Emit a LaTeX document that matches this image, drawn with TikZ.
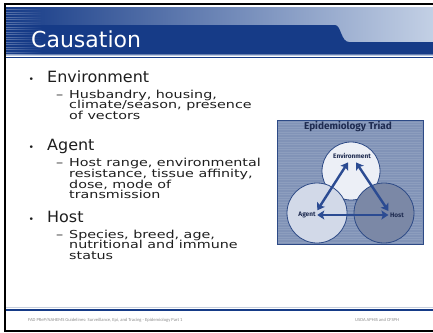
\documentclass[tikz,border=0pt]{standalone}
\usepackage{fontspec}
\setmainfont{DejaVu Sans}
\newfontfamily\bodyfont[FakeStretch=1.03]{DejaVu Sans}
\newfontfamily\subfont[FakeStretch=1.3]{DejaVu Sans}
\newfontfamily\triadfont{Fira Sans}
\newfontfamily\footfont{Carlito}
\usetikzlibrary{arrows.meta,positioning,fadings}

\definecolor{barblue}{HTML}{163B87}
\definecolor{barmid}{HTML}{5D7DB9}
\definecolor{barlight}{HTML}{C3D0E5}
\definecolor{barline}{HTML}{BAC7DE}
\definecolor{bodytext}{HTML}{1E1E1E}
\definecolor{boxblue}{HTML}{8193B7}
\definecolor{triadline}{HTML}{2D4A86}
\definecolor{triadtext}{HTML}{1E2B50}
\definecolor{envfill}{HTML}{ECEFF6}
\definecolor{agentfill}{HTML}{D2D9E8}
\definecolor{hostfill}{HTML}{7B88A6}
\definecolor{arrowblue}{HTML}{2B4B92}
\definecolor{foottext}{HTML}{8C8C8C}
\definecolor{footlight}{HTML}{C8D0DE}

\newcommand{\bulletdot}{\llap{{\fontsize{9}{9}\selectfont\char"2022}\hspace{13pt}}}
\newcommand{\dashmark}{\llap{\char"2013\hspace{6pt}}}
\newcommand{\tightlines}{\lineskiplimit=-20pt\relax}

\begin{document}
\begin{tikzpicture}[x=1pt,y=-1pt,
  main/.style={anchor=base west, inner sep=0pt, text=bodytext,
    font={\bodyfont\fontsize{15.5}{15.5}\selectfont}},
  % base of a multi-line node is its last line
  sub/.style={anchor=base west, inner sep=0pt, align=left, text=bodytext,
    font={\subfont\fontsize{11}{10.8}\selectfont\tightlines}},
  circ/.style={circle, draw=triadline, line width=0.8pt, minimum size=60pt, inner sep=0pt},
  lbl/.style={font={\triadfont\bfseries\fontsize{6.5}{6.5}\selectfont}, text=triadtext, inner sep=1.5pt},
  tri/.style={<->, >={Stealth[length=7pt,width=9pt,inset=1.5pt]}, line width=2.4pt, draw=arrowblue},
  foot/.style={anchor=west, font={\footfont\fontsize{4.6}{4.6}\selectfont}, text=foottext, inner sep=0pt}]
\useasboundingbox (0,0) rectangle (433,332);
\fill[white] (0,0) rectangle (433,332);

% title bar
\shade[left color=barblue, middle color=barmid, right color=barlight] (6,7) rectangle (433,42);
\fill[barblue] (6,25) -- (335,25) .. controls (341,25) and (341,42) .. (349,42)
  -- (433,42) -- (433,54.5) -- (6,54.5) -- cycle;
\foreach \y in {9,11.5,...,54}
  \fill[white, opacity=.3, path fading=east] (6,\y) rectangle (42,\y+0.7);
\draw[barline, line width=1pt] (6,55.6) -- (433,55.6);
\draw[barblue, line width=1.6pt] (6,57.6) -- (433,57.6);
\node (T) [anchor=base west, inner sep=0pt, text=white, font={\fontsize{22}{22}\selectfont}] at (31,47) {Causation};

% bullets
\node (E) [main] at (47,82) {\bulletdot Environment};
\node (Ed) [sub] at (69,119.6) {\dashmark Husbandry, housing,\\climate/season, presence\\of vectors};
\node (A) [main] at (47,150.5) {\bulletdot Agent};
\node (Ad) [sub] at (69,198.9) {\dashmark Host range, environmental\\resistance, tissue affinity,\\dose, mode of\\transmission};
\node (H) [main] at (47,222) {\bulletdot Host};
\node (Hd) [sub] at (69,259.6) {\dashmark Species, breed, age,\\nutritional and immune\\status};

% triad
\node (B) [draw=triadline, fill=boxblue, line width=0.8pt, minimum width=146pt, minimum height=124pt, inner sep=0pt] at (350,182) {};
\foreach \y in {122,124.5,...,242}
  \draw[white, opacity=.1, line width=.8pt] (278,\y) -- (422,\y);
\node (Tt) [font={\triadfont\bfseries\fontsize{10}{10}\selectfont}, text=triadtext] at (348,127) {Epidemiology Triad};
\node (Ec) [circ, fill=envfill, minimum size=58pt] at (351,171) {};
\node (Ac) [circ, fill=agentfill] at (317,213) {};
\node (Hc) [circ, fill=hostfill] at (384,213) {};
\node (El) [lbl] at (352,156) {Environment};
\node (Al) [lbl] at (307,215) {Agent};
\node (Hl) [lbl] at (397,215) {Host};
\draw[tri] ([xshift=-4pt,yshift=-2pt]El.south) -- (Al.north east);
\draw[tri] ([xshift=4pt,yshift=-2pt]El.south) -- (Hl.north west);
\draw[tri] (Al) -- (Hl);

% footer
\draw[footlight, line width=.8pt] (6,307.6) -- (433,307.6);
\draw[barblue, line width=1.5pt] (6,309.8) -- (433,309.8);
\node (F1) [foot] at (28,320) {FAD PReP/NAHEMS Guidelines: Surveillance, Epi, and Tracing - Epidemiology Part 1};
\node (F2) [foot] at (355,320) {USDA APHIS and CFSPH};

% frame
\draw[black, line width=2pt] (433,4) -- (5,4) -- (5,330.5) -- (433,330.5);
\end{tikzpicture}
\end{document}
